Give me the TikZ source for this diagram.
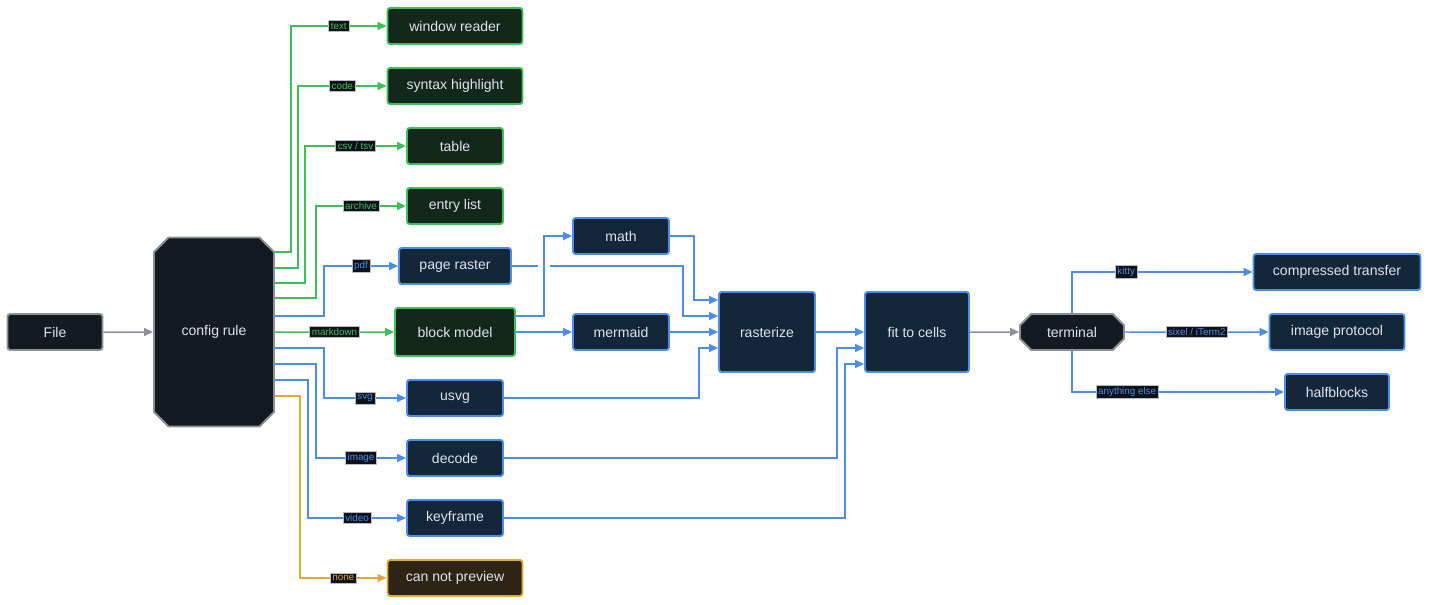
\documentclass[tikz,border=0pt]{standalone}
\usepackage{fontspec}
\setmainfont{Liberation Sans}
\usetikzlibrary{arrows.meta,shapes.misc}

\definecolor{bluefill}{HTML}{13263A}
\definecolor{blueline}{HTML}{4C8CEB}
\definecolor{greenfill}{HTML}{12281B}
\definecolor{greenline}{HTML}{3FBF5C}
\definecolor{orangefill}{HTML}{2E2416}
\definecolor{orangeline}{HTML}{E3AA32}
\definecolor{darkfill}{HTML}{151A22}
\definecolor{grayline}{HTML}{8A9099}
\definecolor{boxtext}{HTML}{DDE3EC}
\definecolor{tagfill}{HTML}{0E1218}

\tikzset{
  box/.style={rectangle, rounded corners=1.5pt, draw, line width=1.1pt, text=boxtext, font=\fontsize{8}{9}\selectfont, inner sep=0pt, minimum height=0.72cm},
  bluebox/.style={box, draw=blueline, fill=bluefill},
  greenbox/.style={box, draw=greenline, fill=greenfill},
  orangebox/.style={box, draw=orangeline, fill=orangefill},
  graybox/.style={box, draw=grayline, fill=darkfill},
  cutbox/.style={graybox, chamfered rectangle, rounded corners=0pt},
  tag/.style={fill=tagfill, inner sep=1.2pt, font=\fontsize{5.6}{6}\selectfont, draw=grayline!60, line width=0.3pt},
  link/.style={line width=0.85pt, -{Triangle[length=1.8mm, width=1.6mm]}},
  bluelink/.style={link, blueline},
  greenlink/.style={link, greenline},
  orangelink/.style={link, orangeline},
  graylink/.style={link, grayline},
}

\begin{document}
\begin{tikzpicture}[x=0.02cm, y=-0.02cm]

  \useasboundingbox (0,0) rectangle (1430,605);

  \node [graybox, minimum width=1.9cm] (file) at (55,332) {File};
  \node [cutbox, minimum width=2.4cm, minimum height=3.78cm, chamfered rectangle xsep=0.16cm, chamfered rectangle ysep=0.16cm] (rule) at (214,332) {config rule};

  \node [greenbox, minimum width=2.7cm] (reader)    at (455,26)  {window reader};
  \node [greenbox, minimum width=2.7cm] (highlight) at (455,86)  {syntax highlight};
  \node [greenbox, minimum width=1.92cm] (table)    at (455,146) {table};
  \node [greenbox, minimum width=1.92cm] (entries)  at (455,206) {entry list};
  \node [bluebox, minimum width=2.24cm] (raster)    at (455,266) {page raster};
  \node [greenbox, minimum width=2.4cm, minimum height=0.96cm] (blocks) at (455,332) {block model};
  \node [bluebox, minimum width=1.92cm] (usvg)      at (455,398) {usvg};
  \node [bluebox, minimum width=1.92cm] (decode)    at (455,458) {decode};
  \node [bluebox, minimum width=1.92cm] (keyframe)  at (455,518) {keyframe};
  \node [orangebox, minimum width=2.7cm] (nopreview) at (455,578) {can not preview};

  \node [bluebox, minimum width=1.92cm] (math)      at (621,236) {math};
  \node [bluebox, minimum width=1.92cm] (mermaid)   at (621,332) {mermaid};
  \node [bluebox, minimum width=1.92cm, minimum height=1.6cm] (rasterize) at (767,332) {rasterize};
  \node [bluebox, minimum width=2.08cm, minimum height=1.6cm] (fit) at (917,332) {fit to cells};
  \node [cutbox, minimum width=2.08cm, chamfered rectangle xsep=0.12cm, chamfered rectangle ysep=0.12cm] (terminal) at (1072,332) {terminal};

  \node [bluebox, minimum width=3.34cm] (transfer)  at (1337,272) {compressed transfer};
  \node [bluebox, minimum width=2.7cm] (protocol)   at (1337,332) {image protocol};
  \node [bluebox, minimum width=2.08cm] (halfblocks) at (1337,392) {halfblocks};

  \draw [graylink] (file) -- (rule);

  \draw [greenlink] (rule.east |- 0,252) -| (291,26) -- node[tag, text=greenline]{text} (reader);
  \draw [greenlink] (rule.east |- 0,268) -| (298,86) -- node[tag, text=greenline]{code} (highlight);
  \draw [greenlink] (rule.east |- 0,283) -| (305,146) -- node[tag, text=greenline]{csv / tsv} (table);
  \draw [greenlink] (rule.east |- 0,298) -| (316,206) -- node[tag, text=greenline]{archive} (entries);
  \draw [bluelink] (rule.east |- 0,316) -| (324,266) -- node[tag, text=blueline]{pdf} (raster);
  \draw [greenlink] (rule) -- node[tag, text=greenline]{markdown} (blocks);
  \draw [bluelink] (rule.east |- 0,348) -| (324,398) -- node[tag, text=blueline]{svg} (usvg);
  \draw [bluelink] (rule.east |- 0,364) -| (316,458) -- node[tag, text=blueline]{image} (decode);
  \draw [bluelink] (rule.east |- 0,380) -| (308,518) -- node[tag, text=blueline]{video} (keyframe);
  \draw [orangelink] (rule.east |- 0,396) -| (300,578) -- node[tag, text=orangeline]{none} (nopreview);

  \draw [bluelink] (raster) -- (683,266) |- (rasterize.west |- 0,316);
  \draw [white, line width=3pt] (538,266) -- (550,266);
  \draw [bluelink] (blocks.east |- 0,316) -| (544,236) -- (math);
  \draw [bluelink] (blocks) -- (mermaid);
  \draw [bluelink] (math) -- (694,236) |- (rasterize.west |- 0,300);
  \draw [bluelink] (mermaid) -- (rasterize);
  \draw [bluelink] (usvg) -- (699,398) |- (rasterize.west |- 0,348);

  \draw [bluelink] (rasterize) -- (fit);
  \draw [bluelink] (decode) -- (837,458) |- (fit.west |- 0,348);
  \draw [bluelink] (keyframe) -- (845,518) |- (fit.west |- 0,364);
  \draw [graylink] (fit) -- (terminal);

  \draw [bluelink] (terminal) |- node[tag, text=blueline, pos=0.65]{kitty} (transfer);
  \draw [bluelink] (terminal) -- node[tag, text=blueline]{sixel / iTerm2} (protocol);
  \draw [bluelink] (terminal) |- node[tag, text=blueline, pos=0.63]{anything else} (halfblocks);

\end{tikzpicture}
\end{document}
